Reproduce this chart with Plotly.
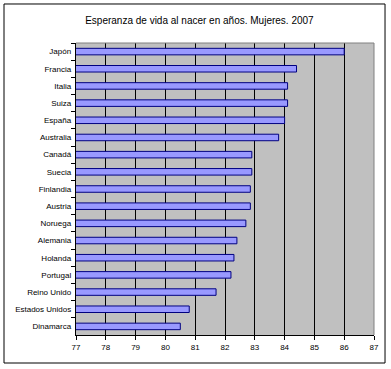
import plotly.graph_objects as go

countries = ["Japón", "Francia", "Italia", "Suiza", "España", "Australia", "Canadá",
             "Suecia", "Finlandia", "Austria", "Noruega", "Alemania", "Holanda",
             "Portugal", "Reino Unido", "Estados Unidos", "Dinamarca"]
values = [86.0, 84.4, 84.1, 84.1, 84.0, 83.8, 82.9, 82.9, 82.85, 82.85, 82.7,
          82.4, 82.3, 82.2, 81.7, 80.8, 80.5]
x_ticks = [77, 78, 79, 80, 81, 82, 83, 84, 85, 86, 87]
title_text = "Esperanza de vida al nacer en años. Mujeres. 2007"

FONT = "Liberation Sans, Arial, sans-serif"

fig = go.Figure(go.Bar(
    x=values, y=countries, orientation="h", width=0.38,
    marker=dict(color="#9999FF", line=dict(color="#000080", width=1)),
    hoverinfo="x+y",
))

fig.update_layout(
    width=391, height=369,
    margin=dict(l=76, r=17, t=43, b=34),
    paper_bgcolor="white", plot_bgcolor="#C0C0C0",
    showlegend=False,
    font=dict(family=FONT, size=8, color="black"),
    title=dict(text=title_text, x=0.51, xanchor="center", y=0.945, yanchor="middle",
               font=dict(family=FONT, size=10, color="black")),
    xaxis=dict(range=[77, 87], tickvals=x_ticks, showgrid=True, gridcolor="black",
               gridwidth=1, showline=True, linecolor="black", linewidth=1,
               ticks="outside", ticklen=4, tickcolor="black", zeroline=False,
               tickfont=dict(size=8)),
    yaxis=dict(categoryorder="array", categoryarray=countries, autorange="reversed",
               showgrid=False, showline=True, linecolor="black", linewidth=1,
               ticks="outside", ticklen=4, tickcolor="black", tickson="boundaries",
               tickfont=dict(size=8), ticksuffix=" "),
    shapes=[
        dict(type="line", xref="paper", yref="paper", x0=0, x1=1, y0=1, y1=1,
             line=dict(color="#808080", width=1)),
        dict(type="line", xref="paper", yref="paper", x0=1, x1=1, y0=0, y1=1,
             line=dict(color="#808080", width=1)),
        dict(type="rect", xref="paper", yref="paper", x0=-0.2416, x1=1.037,
             y0=-0.0959, y1=1.1336, line=dict(color="black", width=1),
             fillcolor="rgba(0,0,0,0)"),
    ],
)

fig.write_html("out.html", config={"displayModeBar": False},
               post_script="document.body.style.margin='0';document.body.style.overflow='hidden';")
